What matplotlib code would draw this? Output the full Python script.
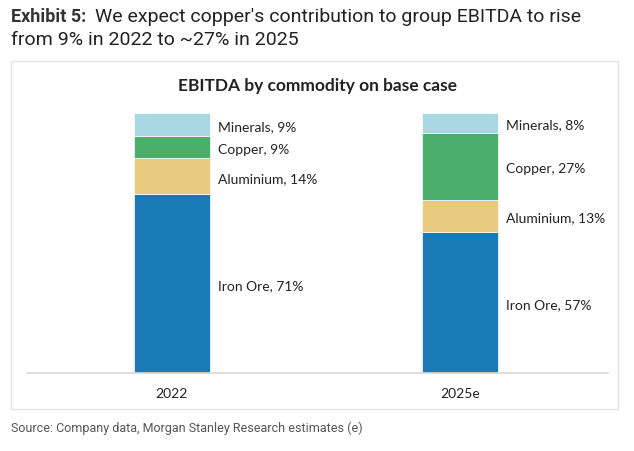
import matplotlib.pyplot as plt
from matplotlib.patches import Rectangle

years = ['2022', '2025e']
segments = ['Iron Ore', 'Aluminium', 'Copper', 'Minerals']
iron_ore = [71, 57]
aluminium = [14, 13]
copper = [9, 27]
minerals = [9, 8]
colors = ['#1A7AB5', '#E8CA80', '#4BAE6A', '#A9D8E3']

series = [iron_ore, aluminium, copper, minerals]
totals = [sum(s[i] for s in series) for i in range(len(years))]

fig = plt.figure(figsize=(6.34, 4.52), dpi=100)
fig.patch.set_facecolor('white')

# frame round the chart
fig.patches.append(Rectangle((11 / 634, 1 - 410 / 452), 607 / 634, 348 / 452,
                             transform=fig.transFigure, fill=False,
                             edgecolor='#E3E3E3', linewidth=1))

fig.text(11 / 634, 1 - 17 / 452, 'Exhibit 5:', fontsize=13, fontweight='bold',
         color='#333333', family='Roboto', va='center')
fig.text(95 / 634, 1 - 17 / 452, "We expect copper's contribution to group EBITDA to rise",
         fontsize=14, color='#222222', family='Roboto', va='center')
fig.text(11 / 634, 1 - 40 / 452, 'from 9% in 2022 to ~27% in 2025',
         fontsize=14, color='#222222', family='Roboto', va='center')
fig.text(11 / 634, 1 - 428 / 452, 'Source: Company data, Morgan Stanley Research estimates (e)',
         fontsize=9, color='#555555', family='Roboto', va='center')
fig.text(318 / 634, 1 - 86 / 452, 'EBITDA by commodity on base case', fontsize=12.5,
         fontweight='bold', color='#222222', family='Lato', ha='center', va='center')

ax = fig.add_axes([27 / 634, 1 - 374 / 452, 581 / 634, 260 / 452])
x = list(range(len(years)))
bottoms = [0.0] * len(years)
for name, vals, c in zip(segments, series, colors):
    shares = [v / t for v, t in zip(vals, totals)]
    ax.bar(x, shares, bottom=bottoms, width=0.264, color=c, edgecolor='white', linewidth=0.5)
    for i in x:
        ax.text(i + 0.16, bottoms[i] + shares[i] / 2 - 0.006, f'{name}, {vals[i]}%',
                fontsize=10, family='Lato', color='#222222', va='center', ha='left')
    bottoms = [b + s for b, s in zip(bottoms, shares)]

ax.set_xlim(-0.503, 1.514)
ax.set_ylim(0, 1)
ax.set_xticks(x)
ax.set_xticklabels(years, fontsize=10, family='Lato', color='#222222')
ax.tick_params(axis='x', length=0, pad=10)
ax.set_yticks([])
for s in ['top', 'right', 'left']:
    ax.spines[s].set_visible(False)
ax.spines['bottom'].set_color('#D9D9D9')
ax.spines['bottom'].set_linewidth(1.2)

fig.savefig('out.png', dpi=100)
